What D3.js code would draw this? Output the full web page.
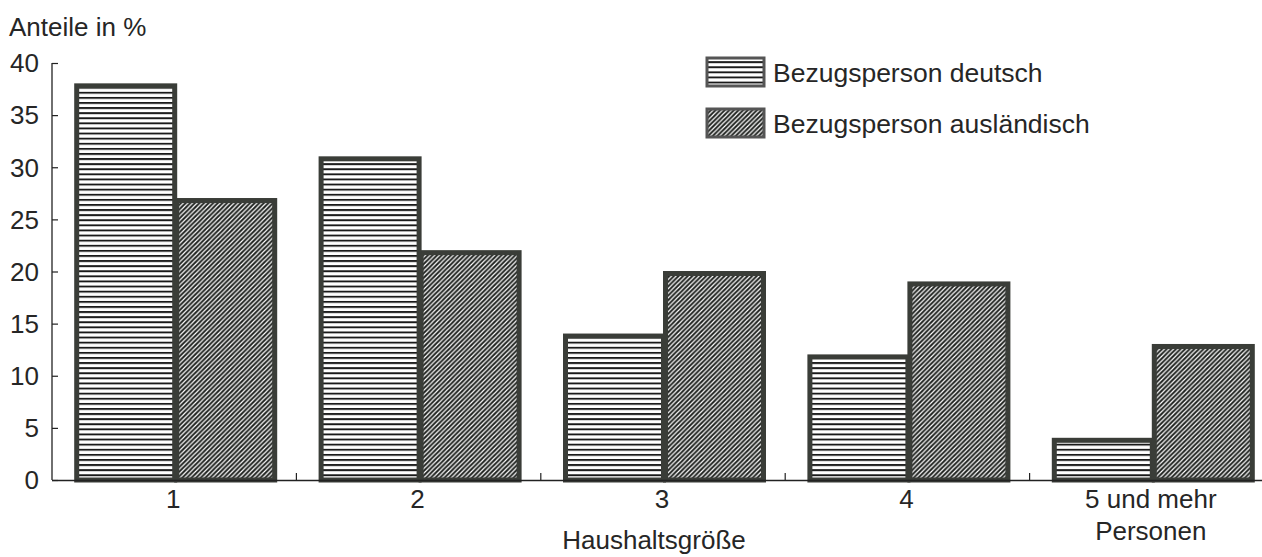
<!DOCTYPE html>
<html><head><meta charset="utf-8">
<script src="https://cdn.jsdelivr.net/npm/d3@7"></script>
<style>body{margin:0;background:#fff}svg{display:block}text{font-family:"Liberation Sans",Arial,sans-serif;fill:#262626}</style>
</head><body><svg id="c" width="1262" height="557"></svg>
<script>
const categories = ["1","2","3","4","5 und mehr|Personen"];
const seriesNames = ["Bezugsperson deutsch","Bezugsperson ausländisch"];
const deutsch = [38,31,14,12,4];
const auslaendisch = [27,22,20,19,13];
const yTicks = [0,5,10,15,20,25,30,35,40];

const svg = d3.select("#c");
const defs = svg.append("defs");
const ph = defs.append("pattern").attr("id","pH").attr("patternUnits","userSpaceOnUse").attr("width",8).attr("height",5.1);
ph.append("rect").attr("width",8).attr("height",5.1).attr("fill","#fff");
ph.append("rect").attr("y",0).attr("width",8).attr("height",1.9).attr("fill","#1a1a1a");
const pd = defs.append("pattern").attr("id","pD").attr("patternUnits","userSpaceOnUse").attr("width",4.6).attr("height",4.6);
pd.append("rect").attr("width",4.6).attr("height",4.6).attr("fill","#222522");
pd.append("path").attr("d","M-1.15,1.15 L1.15,-1.15 M0,4.6 L4.6,0 M3.45,5.75 L5.75,3.45").attr("stroke","#ffffff").attr("stroke-width",1.2);

const y = d3.scaleLinear().domain([0,40]).range([480,63]);
const x0 = d3.scaleBand().domain(categories).range([52,52+5*244.4]).paddingInner(0).paddingOuter(0);
const x1 = d3.scaleBand().domain(seriesNames).range([0,x0.bandwidth()]).paddingInner(0).paddingOuter(0.222);
const fills = {"Bezugsperson deutsch":"url(#pH)","Bezugsperson ausländisch":"url(#pD)"};
const border = "#3a3d38";
const fs = "26px";

// y axis
const yAxis = d3.axisRight(y).tickValues(yTicks).tickSize(6).tickFormat("");
const ya = svg.append("g").attr("transform","translate(52,0)").call(yAxis);
ya.select(".domain").remove();
ya.selectAll("line").attr("stroke","#222").attr("stroke-width",1.2);
svg.append("line").attr("x1",52).attr("x2",52).attr("y1",y(40)).attr("y2",480).attr("stroke","#222").attr("stroke-width",1.3);
svg.selectAll(".ylab").data(yTicks).enter().append("text")
  .attr("x",39).attr("y",d=>y(d)).attr("dy","0.36em").attr("text-anchor","end")
  .style("font-size",fs).text(d=>d);

// bars
const data = categories.map((c,i)=>({c, vals:[{s:seriesNames[0],v:deutsch[i]},{s:seriesNames[1],v:auslaendisch[i]}]}));
const g = svg.append("g");
data.forEach(d=>{
  d.vals.forEach(b=>{
    g.append("rect")
      .attr("x",x0(d.c)+x1(b.s)+2.5).attr("width",x1.bandwidth()-2)
      .attr("y",y(b.v)+2).attr("height",480-y(b.v)-2)
      .attr("fill",fills[b.s]).attr("stroke",border).attr("stroke-width",5);
  });
});

// x axis
svg.append("line").attr("x1",52).attr("x2",1262).attr("y1",480.5).attr("y2",480.5).attr("stroke","#222").attr("stroke-width",1.3);
categories.slice(1).forEach(c=>{
  svg.append("line").attr("x1",x0(c)).attr("x2",x0(c)).attr("y1",480).attr("y2",473).attr("stroke","#222").attr("stroke-width",1.2);
});
categories.forEach(c=>{
  const lines = c.split("|");
  const cx = x0(c)+x0.bandwidth()/2-1;
  const t = svg.append("text").attr("x",cx).attr("y",508).attr("text-anchor","middle").style("font-size",fs);
  lines.forEach((l,i)=>t.append("tspan").attr("x",cx).attr("dy",i?"1.23em":0).text(l));
});
svg.append("text").attr("x",654).attr("y",549).attr("text-anchor","middle").style("font-size",fs).text("Haushaltsgröße");
svg.append("text").attr("x",9).attr("y",36).style("font-size",fs).text("Anteile in %");

// legend
seriesNames.forEach((s,i)=>{
  const yy = 58 + i*51;
  svg.append("rect").attr("x",707).attr("y",yy).attr("width",57).attr("height",28)
    .attr("fill",fills[s]).attr("stroke","#555").attr("stroke-width",3);
  svg.append("text").attr("x",773).attr("y",yy+14).attr("dy","0.36em").style("font-size","26.5px").text(s);
});
</script></body></html>
